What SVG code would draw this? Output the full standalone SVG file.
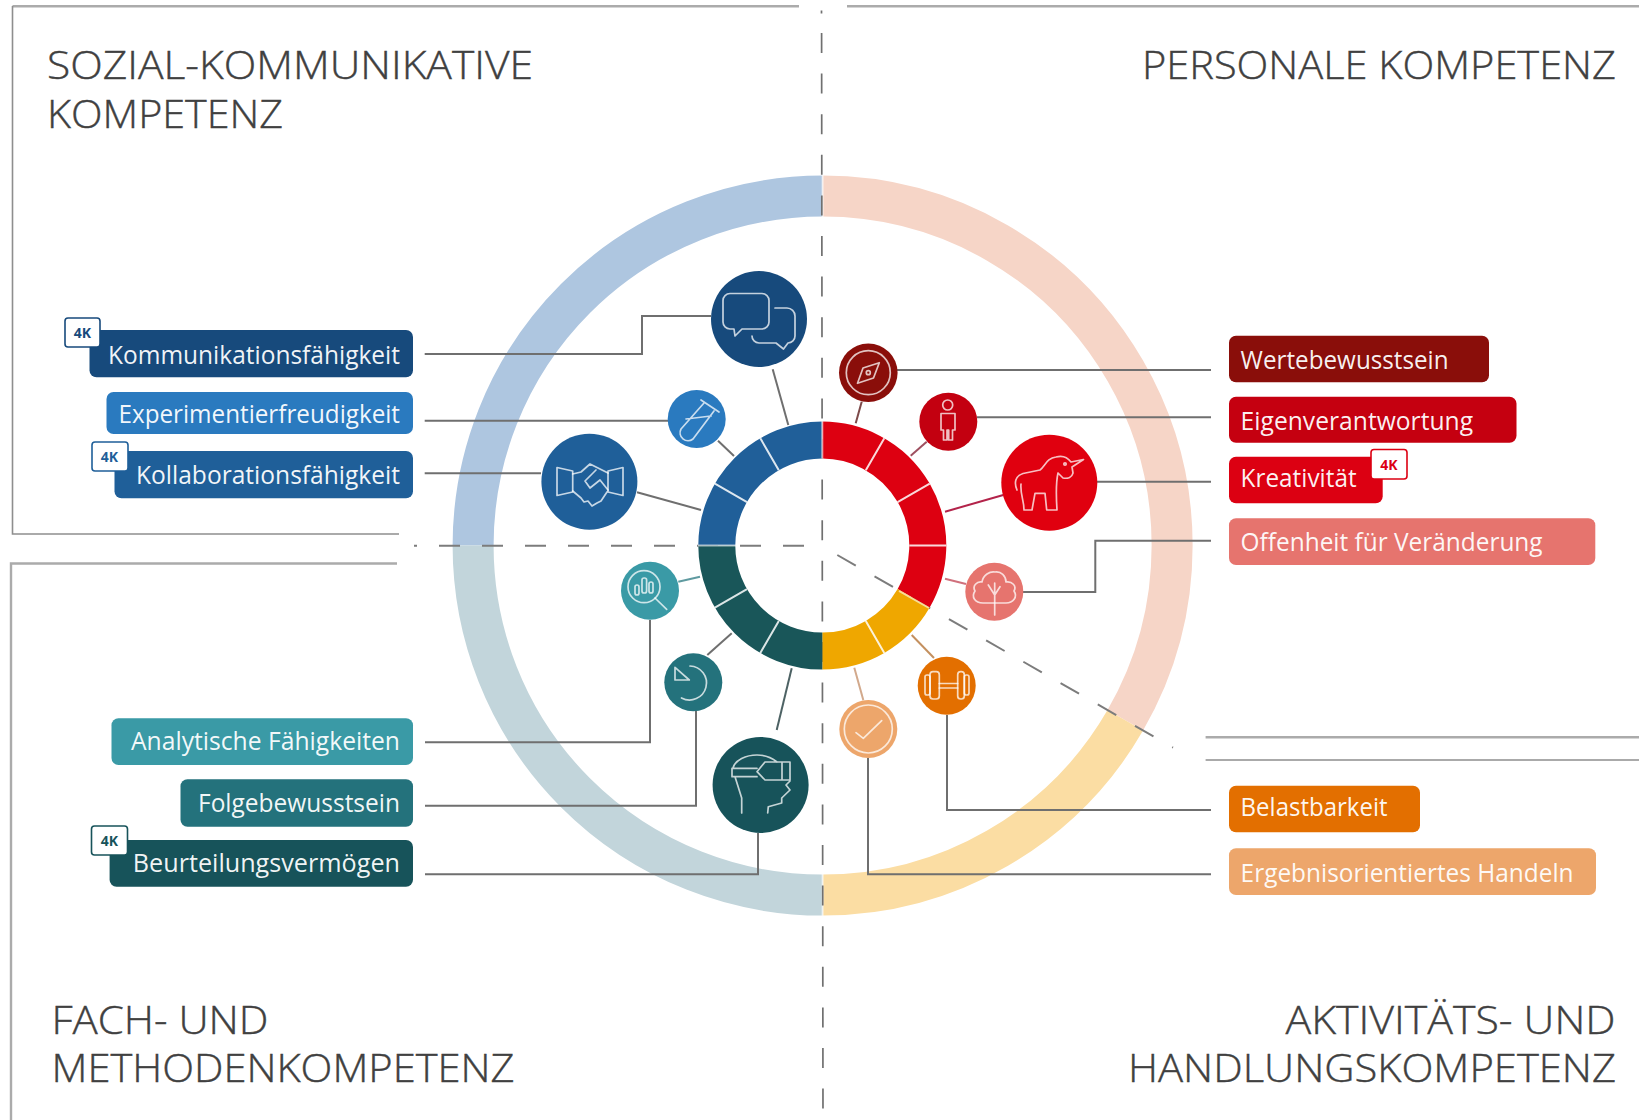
<svg xmlns="http://www.w3.org/2000/svg" width="1639" height="1120" viewBox="0 0 1639 1120">
<style>
.bg{fill:#fff}
.title{font-family:"Open Sans","Noto Sans","Liberation Sans",sans-serif;font-weight:300;font-size:39px;fill:#404040;stroke:#404040;stroke-width:.4}
.lbl{font-family:"Open Sans","Noto Sans","Liberation Sans",sans-serif;font-weight:400;font-size:25px;fill:#fff;fill-opacity:.94}
.badge{fill:#fff;stroke-width:1.6}
.bt{font-family:"Open Sans","Liberation Sans",sans-serif;font-weight:700;font-size:14px;text-anchor:middle}
.frame{fill:none;stroke:#8e8e8e;stroke-width:1.6}
.frame2{fill:none;stroke:#ababab;stroke-width:2.4}
.dash{fill:none;stroke:#7c7c7c;stroke-width:2}
.vdash{fill:none;stroke:#707070;stroke-width:1.7}
.big{fill:none;stroke-width:41}
.small{fill:none;stroke-width:37}
.sep{stroke:#fff;stroke-width:2;opacity:.85}
.seam{stroke:#fff;stroke-width:2;opacity:.6}
.con{fill:none;stroke:#6f6f6f;stroke-width:2}
.ico{fill:none;stroke:#fff;stroke-width:1.7;stroke-linejoin:round;stroke-linecap:round;opacity:.75}
</style>
<rect class="bg" width="1639" height="1120"/>

<g id="frames">
<path class="frame2" d="M12.5,6.2H799M847,6.2H1639"/>
<path class="frame" d="M12.5,6V534H399"/>
<path class="frame2" d="M11,1120V563.5H397"/>
<path class="frame2" d="M1205.6,737.3H1639"/>
<path class="frame" d="M1205.6,760H1639"/>
</g>

<g id="outer-ring">
<path class="big" stroke="#aec6e0" d="M473.1,545.6A349.5,349.5 0 0 1 822.6,196.1"/>
<path class="big" stroke="#f6d5c7" d="M822.6,196.1A349.5,349.5 0 0 1 1125.3,720.35"/>
<path class="big" stroke="#fbdda3" d="M1125.3,720.35A349.5,349.5 0 0 1 822.6,895.1"/>
<path class="big" stroke="#c2d5db" d="M822.6,895.1A349.5,349.5 0 0 1 473.1,545.6"/>
<path class="seam" d="M822.6,175V217M822.6,874V916"/>
</g>

<g id="dashes">
<path class="vdash" d="M821.5,10.5V13.5"/>
<path class="vdash" d="M821.6,33L823,1120" stroke-dasharray="20 20.6"/>
<path class="dash" d="M414,545.7h3M439,545.7H806" stroke-dasharray="21 22"/>
<path class="dash" d="M837.3,555L1173,747.6" stroke-dasharray="21.3 21.6"/>
</g>

<g id="inner-ring">
<path class="small" stroke="#205f99" d="M716.8,545.6A105.5,105.5 0 0 1 822.3,440.1"/>
<path class="small" stroke="#dd0011" d="M822.3,440.1A105.5,105.5 0 0 1 913.66,598.35"/>
<path class="small" stroke="#efa700" d="M913.66,598.35A105.5,105.5 0 0 1 822.3,651.1"/>
<path class="small" stroke="#195659" d="M822.3,651.1A105.5,105.5 0 0 1 716.8,545.6"/>
<path class="sep" d="M865.8,470.3L884.3,438.2M897.6,502.1L929.7,483.6M909.3,545.6H946.3M778.8,470.3L760.3,438.2M747,502.1L714.9,483.6M865.8,620.9L884.3,653M778.8,620.9L760.3,653M747,589.1L714.9,607.6"/>
<path class="seam" d="M822.3,421V459M698,545.6H736M899,591L929,608"/>
</g>

<g id="connectors">
<path class="con" d="M424.7,354H642V316H711"/>
<path class="con" d="M424.7,420.7H668"/>
<path class="con" d="M424.7,473.3H541"/>
<path class="con" d="M425,742.3H650V620"/>
<path class="con" d="M425,805.7H696V711"/>
<path class="con" d="M425,874.3H758V833"/>
<path class="con" d="M897,370H1211"/>
<path class="con" d="M977,417.3H1211"/>
<path class="con" d="M1097,481.7H1211"/>
<path class="con" d="M1023,592H1095.3V540.7H1211"/>
<path class="con" d="M947,715V810H1211"/>
<path class="con" d="M868,758V874.3H1211"/>
<path class="con" d="M772.7,369.3L788.3,425"/>
<path class="con" d="M718,440.7L734,456"/>
<path class="con" d="M637,492.3L701,510"/>
<path class="con" style="stroke:#7d4a4a" d="M861.7,401.7L855.7,423.3"/>
<path class="con" style="stroke:#9e5060" d="M926.7,441.7L910.7,455.7"/>
<path class="con" style="stroke:#b3234a" d="M1003.3,495L945,511.7"/>
<path class="con" style="stroke:#d0707c" d="M966,584L945,578.7"/>
<path class="con" style="stroke:#c4905f" d="M934,658L911.7,635"/>
<path class="con" style="stroke:#d2a98c" d="M863.3,700L854.3,667.7"/>
<path class="con" style="stroke:#5f9aa0" d="M678.3,581.7L700,576.7"/>
<path class="con" d="M707.3,655L731.7,633.3"/>
<path class="con" style="stroke:#4d6264" d="M776.7,730L791.7,668.3"/>
</g>

<g id="icon-kommunikation">
<circle cx="759" cy="319" r="48" fill="#174a7c"/>
<path class="ico" d="M731,293.5H762a7,7 0 0 1 7,7V322a7,7 0 0 1 -7,7H742L735,336L734,329H730a7,7 0 0 1 -7,-7V300.5a7,7 0 0 1 7,-7Z"/>
<path class="ico" d="M775,308H787a8,8 0 0 1 8,8V336a7,7 0 0 1 -7,7H788L783.5,349L776,343H759a7,7 0 0 1 -7,-7"/>
</g>
<g id="icon-experiment">
<circle cx="696.7" cy="419" r="29" fill="#2a7abf"/>
<path class="ico" d="M701,400L719,412M704,403L681,429a8,8 0 0 0 12,10L714,411M686,419L711,416"/>
</g>
<g id="icon-kollaboration">
<circle cx="589.4" cy="481.7" r="48" fill="#1f5f99"/>
<path class="ico" d="M557,467.5L572.7,471V492L557,495.5ZM623,467.5L608,471V492L623,495.5Z"/>
<path class="ico" d="M572.7,474L581,472L590,464L608,473M596,470L585,481L590,488L600,480L608,490M572.7,491L581,498L584,502L588,501L592,506L597,503L601,501L607,492"/>
</g>
<g id="icon-werte">
<circle cx="868.3" cy="372.7" r="29.3" fill="#8a0e0a"/>
<circle class="ico" cx="868.3" cy="372.7" r="22"/>
<path class="ico" d="M879.3,362.7L863,368L857.5,383.3L873.5,378Z"/>
<circle class="ico" cx="868.3" cy="372.7" r="2"/>
</g>
<g id="icon-eigen">
<circle cx="948.3" cy="421.7" r="29" fill="#c30010"/>
<circle class="ico" cx="947.7" cy="405" r="5"/>
<path class="ico" d="M941,413.5H955V430H952.5V440H948.7V430H947V440H943.5V430H941Z"/>
</g>
<g id="icon-kreativ">
<circle cx="1049.3" cy="482.7" r="48" fill="#e0000f"/>
<path class="ico" d="M1017,490C1014,483 1015,476 1023,473.5L1040,470C1045,466 1047,458 1056,457C1063,455 1068,458 1071,462L1083.5,459.5L1072,467L1073,473C1072,477 1068,479 1063,478L1058,473C1056,482 1056,495 1057,510H1046.7L1045,493.3H1035L1032,510H1024C1024,500 1020,494 1021,484"/>
<circle class="ico" cx="1065" cy="464" r="1.2"/>
</g>
<g id="icon-offen">
<circle cx="994.3" cy="591.7" r="29" fill="#e6746e"/>
<path class="ico" d="M983,603C975,603 971,597 975,591C972,586 977,581 982,582C983,575 990,571 995,572C1001,571 1006,576 1006,582C1012,581 1017,586 1014,591C1018,597 1013,603 1006,603Z"/>
<path class="ico" d="M994.7,583V615M988.3,585L994.7,595L1000,586.7"/>
</g>
<g id="icon-belast">
<circle cx="946.7" cy="685.7" r="29" fill="#e36f00"/>
<rect class="ico" x="925" y="675" width="5" height="20" rx="2"/>
<rect class="ico" x="930" y="671.7" width="9.3" height="27.3" rx="3"/>
<rect class="ico" x="957.7" y="671.7" width="6.6" height="27.3" rx="3"/>
<rect class="ico" x="964.3" y="675" width="4.7" height="20" rx="2"/>
<path class="ico" d="M939.3,683.5H957.7M939.3,688H957.7"/>
</g>
<g id="icon-ergebnis">
<circle cx="868.3" cy="729" r="29" fill="#eda66b"/>
<circle class="ico" cx="868.3" cy="729" r="24"/>
<path class="ico" d="M856,732.7L863.3,738.3L881.7,720.7"/>
</g>
<g id="icon-analytisch">
<circle cx="650" cy="590.7" r="29" fill="#3a9aa6"/>
<circle class="ico" cx="644" cy="586.7" r="16"/>
<path class="ico" d="M655,598L666.7,609.3"/>
<rect class="ico" x="635" y="585" width="4" height="10" rx="2"/>
<rect class="ico" x="642" y="578" width="4.6" height="15" rx="2"/>
<rect class="ico" x="649" y="582" width="4" height="11" rx="2"/>
</g>
<g id="icon-folge">
<circle cx="693.3" cy="682.3" r="29" fill="#24727c"/>
<path class="ico" d="M675,667.3V680H689.3Z"/>
<path class="ico" d="M690,666A17,17 0 1 1 681.5,698"/>
</g>
<g id="icon-beurteil">
<circle cx="760.6" cy="785" r="48" fill="#17535a"/>
<path class="ico" d="M757,771.7L765,762H790V780H765ZM782,762V780M757,768.3H732V776.7H757M733,768C735,760 746,755 757,755C765,755 772,758 777,762M735,776.7L741.7,798V813M767.7,813L768.3,806.7L781.7,803V798L790,790L786,785L790,781"/>
</g>

<g id="title-sozial">
<text class="title" x="47" y="78.5" textLength="486" lengthAdjust="spacingAndGlyphs">SOZIAL-KOMMUNIKATIVE</text>
<text class="title" x="47" y="127.5" textLength="236" lengthAdjust="spacingAndGlyphs">KOMPETENZ</text>
</g>
<g id="title-personal">
<text class="title" x="1142" y="78.5" textLength="474" lengthAdjust="spacingAndGlyphs">PERSONALE KOMPETENZ</text>
</g>
<g id="title-fach">
<text class="title" x="51.5" y="1034" textLength="217" lengthAdjust="spacingAndGlyphs">FACH- UND</text>
<text class="title" x="51.5" y="1082" textLength="463" lengthAdjust="spacingAndGlyphs">METHODENKOMPETENZ</text>
</g>
<g id="title-aktiv">
<text class="title" x="1285.5" y="1034" textLength="330" lengthAdjust="spacingAndGlyphs">AKTIVITÄTS- UND</text>
<text class="title" x="1128" y="1082" textLength="488" lengthAdjust="spacingAndGlyphs">HANDLUNGSKOMPETENZ</text>
</g>

<g id="pill-kommunikation">
<rect x="89.5" y="330" width="323.5" height="47.3" rx="7" fill="#174a7c"/>
<text class="lbl" x="108" y="363.8" textLength="292" lengthAdjust="spacingAndGlyphs">Kommunikationsfähigkeit</text>
<rect class="badge" x="65" y="318" width="35" height="29" rx="3" stroke="#174a7c"/>
<text class="bt" x="82.5" y="338" fill="#174a7c">4K</text>
</g>
<g id="pill-experiment">
<rect x="106.5" y="392" width="306.5" height="42" rx="7" fill="#2a7abf"/>
<text class="lbl" x="118.5" y="422.7" textLength="281.5" lengthAdjust="spacingAndGlyphs">Experimentierfreudigkeit</text>
</g>
<g id="pill-kollaboration">
<rect x="114.5" y="451" width="298.5" height="47.3" rx="7" fill="#1f5f99"/>
<text class="lbl" x="136" y="484.3" textLength="264" lengthAdjust="spacingAndGlyphs">Kollaborationsfähigkeit</text>
<rect class="badge" x="92" y="442" width="36" height="29" rx="3" stroke="#1f5f99"/>
<text class="bt" x="109.5" y="462" fill="#1f5f99">4K</text>
</g>
<g id="pill-analytisch">
<rect x="111.5" y="718.3" width="301.5" height="46.7" rx="7" fill="#3a9aa6"/>
<text class="lbl" x="131" y="750" textLength="269" lengthAdjust="spacingAndGlyphs">Analytische Fähigkeiten</text>
</g>
<g id="pill-folge">
<rect x="180.5" y="779.3" width="232.5" height="47.4" rx="7" fill="#24727c"/>
<text class="lbl" x="198" y="812.2" textLength="202" lengthAdjust="spacingAndGlyphs">Folgebewusstsein</text>
</g>
<g id="pill-beurteil">
<rect x="109.6" y="840" width="303.4" height="46.7" rx="7" fill="#17535a"/>
<text class="lbl" x="132.8" y="871.9" textLength="267.2" lengthAdjust="spacingAndGlyphs">Beurteilungsvermögen</text>
<rect class="badge" x="91.5" y="826" width="36" height="29" rx="3" stroke="#17535a"/>
<text class="bt" x="109.5" y="846" fill="#17535a">4K</text>
</g>
<g id="pill-werte">
<rect x="1229" y="335.7" width="260" height="46.6" rx="7" fill="#8a0e0a"/>
<text class="lbl" x="1240.6" y="369.3" textLength="208" lengthAdjust="spacingAndGlyphs">Wertebewusstsein</text>
</g>
<g id="pill-eigen">
<rect x="1229" y="396.7" width="287.5" height="46" rx="7" fill="#c50010"/>
<text class="lbl" x="1240.6" y="429.8" textLength="232.5" lengthAdjust="spacingAndGlyphs">Eigenverantwortung</text>
</g>
<g id="pill-kreativ">
<rect x="1229" y="456.7" width="153.7" height="46.6" rx="7" fill="#dc0012"/>
<text class="lbl" x="1240.6" y="487.2" textLength="116" lengthAdjust="spacingAndGlyphs">Kreativität</text>
<rect class="badge" x="1371" y="449.5" width="36" height="29.5" rx="3" stroke="#dc0012"/>
<text class="bt" x="1389" y="469.5" fill="#dc0012">4K</text>
</g>
<g id="pill-offen">
<rect x="1229" y="518.3" width="366.3" height="46.7" rx="7" fill="#e6746e"/>
<text class="lbl" x="1240.6" y="551" textLength="302" lengthAdjust="spacingAndGlyphs">Offenheit für Veränderung</text>
</g>
<g id="pill-belast">
<rect x="1229" y="785.7" width="191" height="46.6" rx="7" fill="#e36f00"/>
<text class="lbl" x="1240.6" y="816" textLength="147" lengthAdjust="spacingAndGlyphs">Belastbarkeit</text>
</g>
<g id="pill-ergebnis">
<rect x="1229" y="848.3" width="367" height="46.7" rx="7" fill="#eda66b"/>
<text class="lbl" x="1240.6" y="881.7" textLength="333" lengthAdjust="spacingAndGlyphs">Ergebnisorientiertes Handeln</text>
</g>
</svg>
